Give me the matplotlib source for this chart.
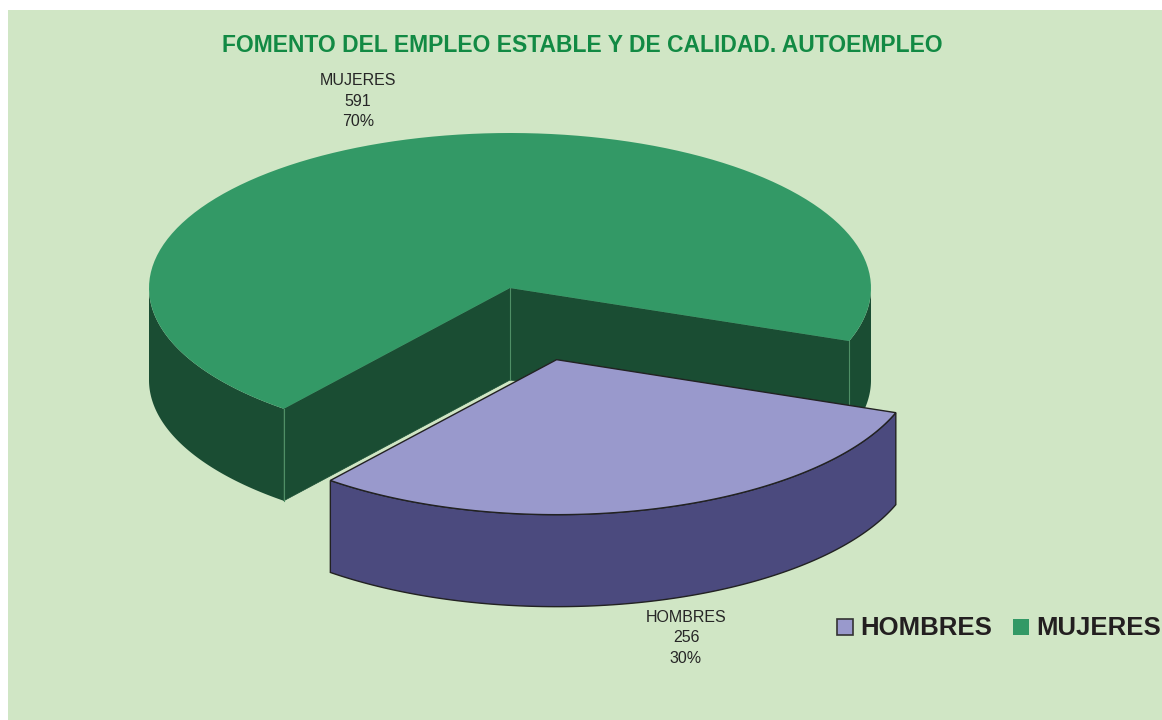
import numpy as np
import matplotlib
matplotlib.use("Agg")
import matplotlib.pyplot as plt
from matplotlib.patches import Polygon, Rectangle

# data
categories = ["HOMBRES", "MUJERES"]
values = [256, 591]
top_colors = ["#9999cc", "#339966"]
side_colors = ["#4b4a7e", "#1a4d33"]

title = "FOMENTO DEL EMPLEO ESTABLE Y DE CALIDAD. AUTOEMPLEO"

plt.rcParams['font.family'] = ['Liberation Sans', 'DejaVu Sans']

W, H = 1162, 720
fig = plt.figure(figsize=(W / 100, H / 100), dpi=100)
ax = fig.add_axes([0, 0, 1, 1])
ax.set_xlim(0, W)
ax.set_ylim(H, 0)
ax.axis("off")

ax.add_patch(Rectangle((8, 10), W - 8, H - 10, facecolor="#d0e6c5", edgecolor="none", zorder=0))

# pie geometry (pixel space, y down)
cx, cy = 510, 288
rx, ry = 361, 155
depth = 92
explode = 0.48

total = sum(values)
fracs = [v / total for v in values]
end_h = -20.0
start_h = end_h - fracs[0] * 360
spans = [(start_h, end_h), (end_h, end_h + fracs[1] * 360)]


def pt(t, ox, oy, dz=0):
    r = np.radians(t)
    return ox + rx * np.cos(r), oy - ry * np.sin(r) + dz


def arc(t0, t1, ox, oy, dz=0, n=120):
    ts = np.linspace(t0, t1, n)
    return [pt(t, ox, oy, dz) for t in ts]


def front_ranges(t0, t1):
    # parts of the arc where the outer wall faces the viewer (lower half)
    out = []
    for k in range(-2, 3):
        a, b = -180 + 360 * k, 360 * k
        lo, hi = max(t0, a), min(t1, b)
        if hi > lo:
            out.append((lo, hi))
    return out


def draw_slice(i, z, edge, lw):
    t0, t1 = spans[i]
    mid = np.radians((t0 + t1) / 2)
    e = explode if i == 0 else 0
    ox = cx + rx * e * np.cos(mid)
    oy = cy - ry * e * np.sin(mid)
    # radial walls (only for main slice, the cut faces toward viewer)
    if i == 1:
        for t in (t0, t1):
            p = pt(t, ox, oy)
            wall = [(ox, oy), p, (p[0], p[1] + depth), (ox, oy + depth)]
            ax.add_patch(Polygon(wall, closed=True, facecolor=side_colors[i],
                                 edgecolor=side_colors[i], lw=0.5, zorder=z))
            ax.plot([p[0], p[0]], [p[1], p[1] + depth], color="#4f8f66",
                    lw=0.8, zorder=z + 1.5)
        ax.plot([ox, ox], [oy, oy + depth], color="#4f8f66", lw=0.8, zorder=z + 0.5)
    for a, b in front_ranges(t0, t1):
        upper = arc(a, b, ox, oy)
        lower = arc(b, a, ox, oy, depth)
        ax.add_patch(Polygon(upper + lower, closed=True, facecolor=side_colors[i],
                             edgecolor=edge, lw=lw, zorder=z + 1))
    top = [(ox, oy)] + arc(t0, t1, ox, oy)
    ax.add_patch(Polygon(top, closed=True, facecolor=top_colors[i],
                         edgecolor=edge, lw=lw, zorder=z + 2))
    return ox, oy


draw_slice(1, 2, "none", 0)
draw_slice(0, 6, "#222222", 1.0)

ax.text(582, 45, title, ha="center", va="center", fontsize=16.5,
        fontweight="bold", color="#128a44", zorder=10)

# data labels
label_pos = [(686, 638), (358, 101)]
for i, cat in enumerate(categories):
    x, y = label_pos[i]
    pct = "{:.0f}%".format(fracs[i] * 100)
    ax.text(x, y, f"{cat}\n{values[i]}\n{pct}", ha="center", va="center",
            fontsize=11.5, color="#262626", linespacing=1.45, zorder=10)

# legend
leg_x = [837, 1013]
for i, cat in enumerate(categories):
    ec = "#333333" if i == 0 else "none"
    ax.add_patch(Rectangle((leg_x[i], 619), 16, 16, facecolor=top_colors[i],
                           edgecolor=ec, lw=1.2, zorder=10))
    ax.text(leg_x[i] + 23, 628, cat, ha="left", va="center", fontsize=18.5,
            fontweight="bold", color="#231f20", zorder=10)

fig.savefig("out.png", dpi=100)
